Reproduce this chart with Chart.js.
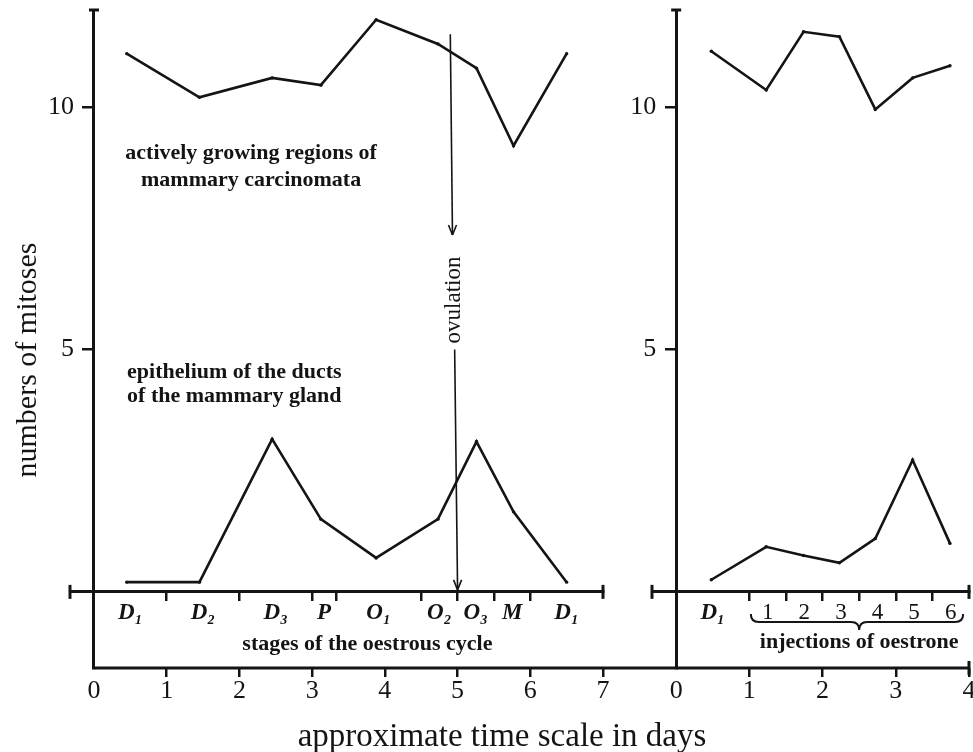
<!DOCTYPE html>
<html>
<head>
<meta charset="utf-8">
<script src="https://cdn.jsdelivr.net/npm/chart.js@4.4.1/dist/chart.umd.min.js"></script>
<style>
  html, body { margin: 0; padding: 0; background: #fff; }
  #wrap { position: relative; width: 973px; height: 752px; overflow: hidden; }
  canvas { position: absolute; left: 0; top: 0; }
</style>
</head>
<body>
<div id="wrap">
  <canvas id="cycleChart" width="973" height="752"></canvas>
  <canvas id="injectionChart" width="973" height="752"></canvas>
</div>
<script>
// values: x in days, y = numbers of mitoses
const cycleStages = ['D₁', 'D₂', 'D₃', 'P', 'O₁', 'O₂', 'O₃', 'M', 'D₁'];
const cycleStageEdges = [1, 2, 3, 3.33, 4.5, 5, 5.5, 6];
const cycleDays = [0.45, 1.45, 2.45, 3.12, 3.88, 4.73, 5.26, 5.77, 6.5];
const cycleCarcinoma = [11.1, 10.2, 10.6, 10.45, 11.8, 11.3, 10.8, 9.2, 11.1];
const cycleDucts = [0.2, 0.2, 3.15, 1.5, 0.7, 1.5, 3.1, 1.65, 0.2];

const injectionStages = ['D₁', '1', '2', '3', '4', '5', '6'];
const injectionStageEdges = [1, 1.5, 2, 2.5, 3, 3.5];
const injectionDays = [0.48, 1.23, 1.74, 2.23, 2.72, 3.23, 3.74];
const injectionCarcinoma = [11.15, 10.35, 11.55, 11.45, 9.95, 10.6, 10.85];
const injectionDucts = [0.25, 0.93, 0.75, 0.6, 1.1, 2.72, 1.0];

const mitosisTicks = [5, 10];
const cycleDayTicks = [0, 1, 2, 3, 4, 5, 6, 7];
const injectionDayTicks = [0, 1, 2, 3, 4];

const YMIN = -1.57, YMAX = 12, DAY_MIN = -0.33;
const INK = '#141414';
const SERIF = '"Liberation Serif", "DejaVu Serif", serif';

Chart.defaults.font.family = SERIF;
Chart.defaults.color = INK;

function stageTicks(labels, edges, end) {
    const bounds = [0, ...edges, end];
    const ticks = edges.map(v => ({ value: v, edge: true, text: '' }));
    labels.forEach((l, i) => ticks.push({ value: (bounds[i] + bounds[i + 1]) / 2, edge: false, text: l }));
    return ticks.sort((a, b) => a.value - b.value);
}

function series(days, values) {
    return {
        data: days.map((d, i) => ({ x: d, y: values[i] })),
        borderColor: INK, borderWidth: 2.6,
        pointRadius: 1.7, pointBackgroundColor: INK, pointBorderWidth: 0,
        tension: 0, xAxisID: 'x', yAxisID: 'y'
    };
}

function line(ctx, x1, y1, x2, y2) {
    ctx.beginPath(); ctx.moveTo(x1, y1); ctx.lineTo(x2, y2); ctx.stroke();
}

function label(ctx, str, x, y, font, align) {
    ctx.font = font;
    ctx.textAlign = align || 'center';
    ctx.textBaseline = 'middle';
    ctx.fillText(str, x, y);
}

function arrowHead(ctx, x, y) {
    line(ctx, x - 4, y - 10, x, y);
    line(ctx, x + 4, y - 10, x, y);
}

const panelExtras = {
    id: 'panelExtras',
    afterDraw(chart, args, o) {
        const ctx = chart.ctx, x = chart.scales.x, y = chart.scales.y;
        const x0 = x.getPixelForValue(0), y0 = y.getPixelForValue(0);
        const yb = y.getPixelForValue(YMIN), top = y.getPixelForValue(YMAX);
        ctx.save();
        ctx.strokeStyle = INK; ctx.fillStyle = INK; ctx.lineWidth = 3;
        line(ctx, x0 - 5, top, x0 + 5, top);
        [x.min, x.max].forEach(v => line(ctx, x.getPixelForValue(v), y0 - 7, x.getPixelForValue(v), y0 + 7));
        line(ctx, x0, yb, x.getPixelForValue(o.dayLineEnd), yb);
        if (o.dayCap) line(ctx, x.getPixelForValue(x.max), yb - 7, x.getPixelForValue(x.max), yb + 7);
        y.ticks.forEach(t => label(ctx, t.label, x0 - 20, y.getPixelForValue(t.value), `26px ${SERIF}`, 'right'));
        if (o.draw) o.draw(ctx, x, y);
        ctx.restore();
    }
};

function makePanel(id, cfg) {
    return new Chart(document.getElementById(id), {
        type: 'line',
        data: { datasets: [series(cfg.days, cfg.upper), series(cfg.days, cfg.lower)] },
        options: {
            responsive: false, animation: false, devicePixelRatio: 1,
            layout: { padding: cfg.padding },
            plugins: { legend: { display: false }, tooltip: { enabled: false }, panelExtras: cfg.extras },
            scales: {
                x: {
                    type: 'linear', position: { y: 0 }, min: DAY_MIN, max: cfg.xmax,
                    afterBuildTicks: s => { s.ticks = stageTicks(cfg.stages, cfg.edges, cfg.xmax); },
                    afterFit: s => { s.paddingLeft = 0; s.paddingRight = 0; },
                    border: { display: true, width: 3, color: INK },
                    grid: {
                        drawOnChartArea: false, tickLength: 8, lineWidth: 2.5,
                        color: c => c.tick && c.tick.edge ? INK : 'rgba(0,0,0,0)',
                        tickColor: c => c.tick && c.tick.edge ? INK : 'rgba(0,0,0,0)'
                    },
                    ticks: {
                        autoSkip: false, maxRotation: 0, minRotation: 0, padding: -1, color: INK,
                        callback: (v, i, ticks) => ticks[i].text,
                        font: c => {
                            const upright = c.tick && /^\d/.test(c.tick.text);
                            return { family: SERIF, size: 23, style: upright ? 'normal' : 'italic', weight: upright ? 'normal' : 'bold' };
                        }
                    }
                },
                xDays: {
                    type: 'linear', axis: 'x', position: { y: YMIN }, min: DAY_MIN, max: cfg.xmax,
                    afterBuildTicks: s => { s.ticks = cfg.dayTicks.map(v => ({ value: v })); },
                    afterFit: s => { s.paddingLeft = 0; s.paddingRight = 0; },
                    border: { display: false },
                    grid: {
                        drawOnChartArea: false, tickLength: 9, lineWidth: 2.5,
                        color: c => c.tick && c.tick.value === 0 ? 'rgba(0,0,0,0)' : INK,
                        tickColor: c => c.tick && c.tick.value === 0 ? 'rgba(0,0,0,0)' : INK
                    },
                    ticks: { autoSkip: false, maxRotation: 0, padding: -1, color: INK, font: { family: SERIF, size: 26 }, callback: v => String(v) }
                },
                y: {
                    type: 'linear', position: { x: 0 }, min: YMIN, max: YMAX,
                    afterBuildTicks: s => { s.ticks = mitosisTicks.map(v => ({ value: v })); },
                    afterFit: s => { s.paddingTop = 0; s.paddingBottom = 0; },
                    border: { display: true, width: 3, color: INK },
                    grid: { drawOnChartArea: false, tickLength: 10, lineWidth: 2.5, color: INK },
                    ticks: { display: false }
                }
            }
        },
        plugins: [panelExtras]
    });
}

function drawCycleText(ctx, x, y) {
    const bold = `bold 22px ${SERIF}`;
    label(ctx, 'actively growing regions of', x.getPixelForValue(2.16), y.getPixelForValue(9.05), bold);
    label(ctx, 'mammary carcinomata', x.getPixelForValue(2.16), y.getPixelForValue(8.48), bold);
    label(ctx, 'epithelium of the ducts', x.getPixelForValue(1.93), y.getPixelForValue(4.52), bold);
    label(ctx, 'of the mammary gland', x.getPixelForValue(1.93), y.getPixelForValue(4.04), bold);
    label(ctx, 'stages of the oestrous cycle', x.getPixelForValue(3.76), y.getPixelForValue(-1.09), `bold 22px ${SERIF}`);
    label(ctx, 'approximate time scale in days', 502, 737, `33px ${SERIF}`);

    ctx.save();
    ctx.translate(28, 360);
    ctx.rotate(-Math.PI / 2);
    label(ctx, 'numbers of mitoses', 0, 0, `30px ${SERIF}`);
    ctx.restore();

    // ovulation arrow
    ctx.lineWidth = 1.6;
    const ax1 = x.getPixelForValue(4.9), ax2 = x.getPixelForValue(4.93);
    const tip1 = y.getPixelForValue(7.36);
    line(ctx, ax1, y.getPixelForValue(11.5), ax2, tip1);
    arrowHead(ctx, ax2, tip1);
    const bx1 = x.getPixelForValue(4.96), bx2 = x.getPixelForValue(5.0);
    const tip2 = y.getPixelForValue(0) - 2;
    line(ctx, bx1, y.getPixelForValue(5.0), bx2, tip2);
    arrowHead(ctx, bx2, tip2);
    ctx.save();
    ctx.translate(x.getPixelForValue(4.95), y.getPixelForValue(6.02));
    ctx.rotate(-Math.PI / 2);
    label(ctx, 'ovulation', 0, 0, `23px ${SERIF}`);
    ctx.restore();
}

function drawInjectionText(ctx, x, y) {
    // brace under the injection days
    const xl = x.getPixelForValue(1.02), xr = x.getPixelForValue(3.92), xc = x.getPixelForValue(2.5);
    const yt = 614, ym = 622, yp = 630, r = 8;
    ctx.lineWidth = 2;
    ctx.beginPath();
    ctx.moveTo(xl, yt);
    ctx.quadraticCurveTo(xl, ym, xl + r, ym);
    ctx.lineTo(xc - r, ym);
    ctx.quadraticCurveTo(xc, ym, xc, yp);
    ctx.quadraticCurveTo(xc, ym, xc + r, ym);
    ctx.lineTo(xr - r, ym);
    ctx.quadraticCurveTo(xr, ym, xr, yt);
    ctx.stroke();
    label(ctx, 'injections of oestrone', xc, y.getPixelForValue(-1.05), `bold 22px ${SERIF}`);
}

makePanel('cycleChart', {
    stages: cycleStages, edges: cycleStageEdges, days: cycleDays,
    upper: cycleCarcinoma, lower: cycleDucts, dayTicks: cycleDayTicks, xmax: 7,
    padding: { left: 70, right: 973 - 603, top: 10, bottom: 752 - 668 },
    extras: { dayLineEnd: 8, dayCap: false, draw: drawCycleText }
});

makePanel('injectionChart', {
    stages: injectionStages, edges: injectionStageEdges, days: injectionDays,
    upper: injectionCarcinoma, lower: injectionDucts, dayTicks: injectionDayTicks, xmax: 4,
    padding: { left: 652, right: 3, top: 10, bottom: 752 - 668 },
    extras: { dayLineEnd: 4, dayCap: true, draw: drawInjectionText }
});
</script>
</body>
</html>
